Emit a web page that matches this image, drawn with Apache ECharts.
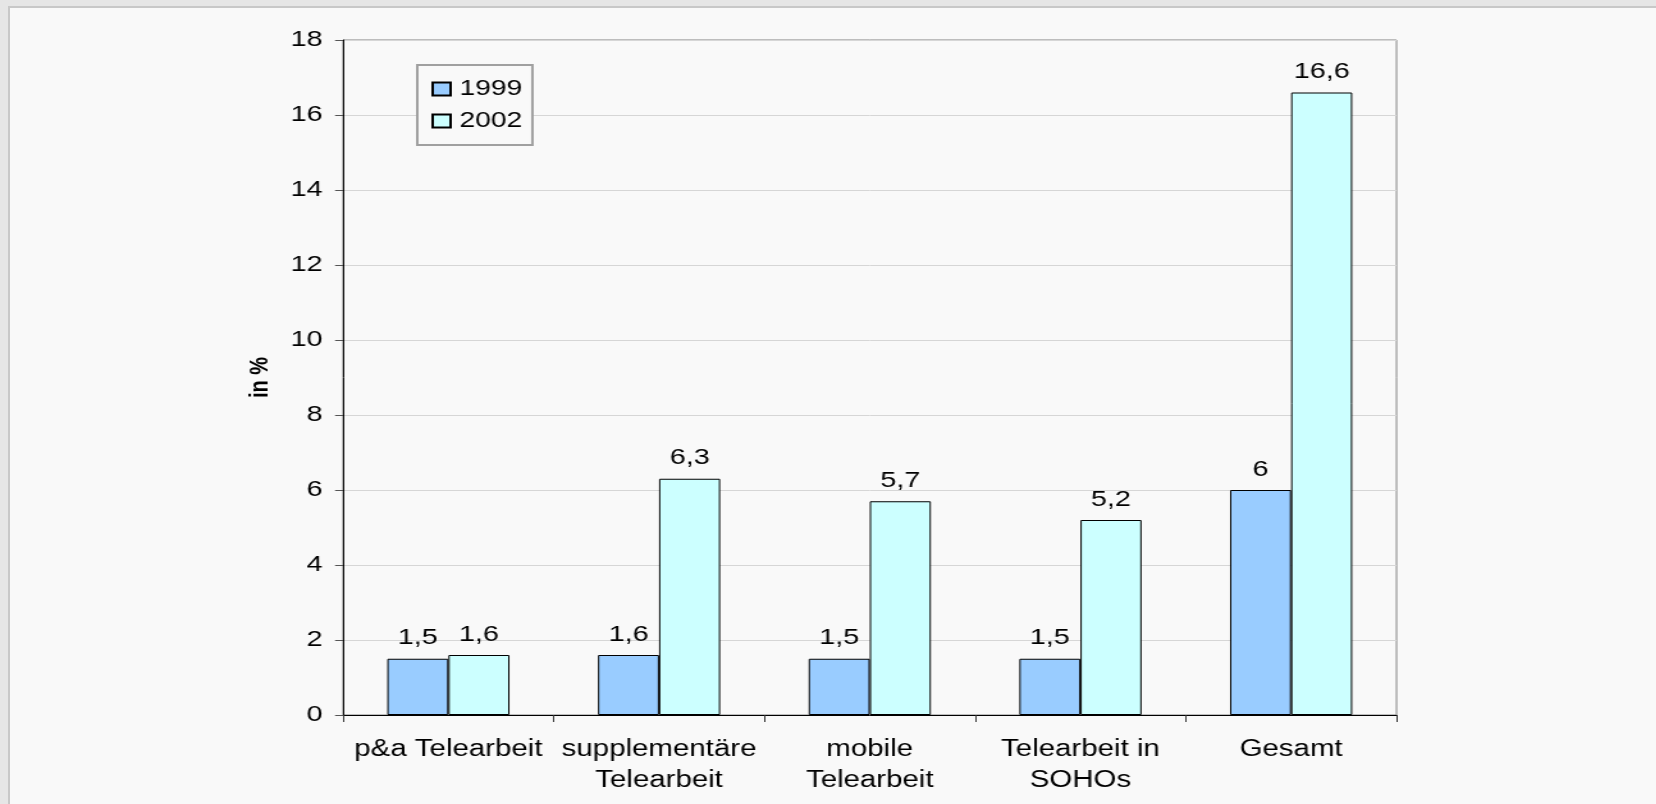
<!DOCTYPE html>
<html>
<head>
<meta charset="utf-8">
<script src="https://cdn.jsdelivr.net/npm/echarts@6/dist/echarts.min.js"></script>
<style>
  html, body { margin: 0; padding: 0; width: 1656px; height: 804px; overflow: hidden; background: #e6e6e6; }
  #panel { position: absolute; left: 8px; top: 6px; right: 0; bottom: 0; background: #f9f9f9;
           border-left: 2px solid #c8c8c8; border-top: 2px solid #c8c8c8; }
  #chart { position: absolute; left: 0; top: 0; width: 1294px; height: 804px;
           transform: scaleX(1.28); transform-origin: 0 0; }
</style>
</head>
<body>
<div id="panel"></div>
<div id="chart"></div>
<script>
const categories = ['p&a Telearbeit', 'supplementäre\nTelearbeit', 'mobile\nTelearbeit', 'Telearbeit in\nSOHOs', 'Gesamt'];
const seriesNames = ['1999', '2002'];
const values1999 = [1.5, 1.6, 1.5, 1.5, 6];
const values2002 = [1.6, 6.3, 5.7, 5.2, 16.6];
const yAxisName = 'in %';
const yMin = 0, yMax = 18, yInterval = 2;

const FONT = '"Liberation Sans", Arial, sans-serif';
const fmt = p => String(p.value).replace('.', ',');

const chart = echarts.init(document.getElementById('chart'), null, { renderer: 'canvas' });
chart.setOption({
  backgroundColor: 'transparent',
  animation: false,
  textStyle: { fontFamily: FONT, color: '#000' },
  grid: { left: 268, right: 203, top: 40, bottom: 89, show: true, borderColor: '#808080', borderWidth: 1, backgroundColor: 'transparent' },
  legend: {
    orient: 'vertical', left: 326, top: 65,
    padding: [13, 8, 13, 11], itemGap: 10,
    itemWidth: 14, itemHeight: 13,
    borderColor: '#a0a0a0', borderWidth: 2, backgroundColor: '#f9f9f9',
    textStyle: { fontFamily: FONT, fontSize: 22, color: '#000', padding: [0, 0, 0, 2] },
    data: seriesNames.map(n => ({ name: n, icon: 'rect' }))
  },
  xAxis: {
    type: 'category', data: categories,
    axisLine: { lineStyle: { color: '#000', width: 1 } },
    axisTick: { show: true, length: 7, lineStyle: { color: '#333' } },
    axisLabel: { interval: 0, margin: 19, fontFamily: FONT, fontSize: 23, lineHeight: 31, color: '#000' },
    splitLine: { show: false }
  },
  yAxis: {
    type: 'value', min: yMin, max: yMax, interval: yInterval,
    name: yAxisName, nameLocation: 'middle', nameRotate: 90, nameGap: 55,
    nameTextStyle: { fontFamily: FONT, fontSize: 20, fontWeight: 'bold', color: '#000' },
    axisLine: { show: true, lineStyle: { color: '#000', width: 1 } },
    axisTick: { show: true, length: 6.25, lineStyle: { color: '#555' } },
    axisLabel: { margin: 16, fontFamily: FONT, fontSize: 22.5, color: '#000' },
    splitLine: { show: true, lineStyle: { color: '#d6d6d6', width: 1 } }
  },
  series: [
    {
      name: seriesNames[0], type: 'bar', data: values1999,
      barWidth: '29%', barGap: '0%',
      itemStyle: { color: '#99ccff', borderColor: '#000', borderWidth: 1 },
      label: { show: true, position: 'top', distance: 9, formatter: fmt, fontFamily: FONT, fontSize: 22.5, color: '#000' }
    },
    {
      name: seriesNames[1], type: 'bar', data: values2002,
      barWidth: '29%', barGap: '0%',
      itemStyle: { color: '#ccffff', borderColor: '#000', borderWidth: 1 },
      label: { show: true, position: 'top', distance: 9, formatter: fmt, fontFamily: FONT, fontSize: 22.5, color: '#000' }
    }
  ]
});
</script>
</body>
</html>
